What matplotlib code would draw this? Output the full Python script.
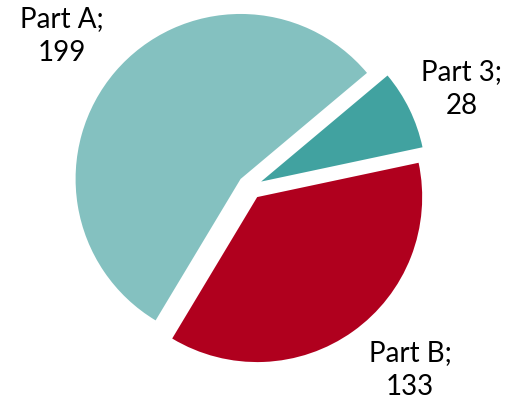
import matplotlib
matplotlib.use("Agg")
import matplotlib.pyplot as plt

# ── data ────────────────────────────────────────────────────────────────
parts  = ["Part A", "Part B", "Part 3"]
counts = [199, 133, 28]
colors = ["#84C1C0", "#B0001E", "#41A2A0"]

# label anchor points (pixel coords in the 514x406 canvas)
label_px = {"Part A": (62, 36), "Part B": (410, 370), "Part 3": (462, 89)}

plt.rcParams["font.family"] = ["Lato", "DejaVu Sans"]

W, H, DPI = 514, 406, 100
CX, CY, R = 250, 188, 165          # pie centre and radius in pixels

fig = plt.figure(figsize=(W / DPI, H / DPI), dpi=DPI)
ax = fig.add_axes([0, 0, 1, 1])

ax.pie(
    counts,
    colors=colors,
    startangle=40,
    counterclock=True,
    explode=[0.075] * len(counts),
    wedgeprops=dict(linewidth=0),
)

ax.set_xlim(-CX / R, (W - CX) / R)
ax.set_ylim(-(H - CY) / R, CY / R)
ax.set_aspect("equal", adjustable="box")
ax.axis("off")

for name, val in zip(parts, counts):
    px, py = label_px[name]
    ax.text((px - CX) / R, (CY - py) / R, f"{name};\n{val}",
            ha="center", va="center", fontsize=20, linespacing=1.4,
            color="black")

fig.savefig("out.png", dpi=DPI)
